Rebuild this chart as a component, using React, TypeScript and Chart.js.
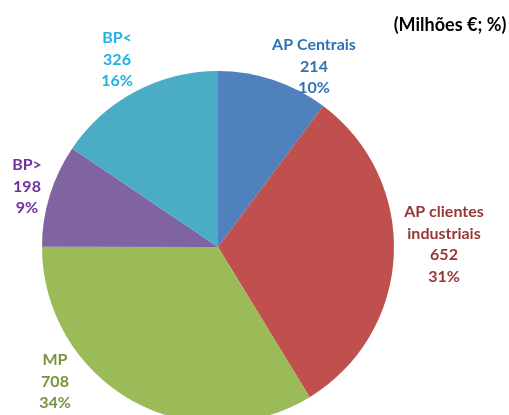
import React, { useEffect, useRef } from "react";
import { Chart, registerables } from "chart.js";

Chart.register(...registerables);

const categories = ["AP Centrais", "AP clientes industriais", "MP", "BP>", "BP<"];
const values = [214, 652, 708, 198, 326];
const percents = ["10%", "31%", "34%", "9%", "16%"];
const labelLines = [["AP Centrais"], ["AP clientes", "industriais"], ["MP"], ["BP>"], ["BP<"]];
const sliceColors = ["#4F81BD", "#C0504D", "#9BBB59", "#8064A2", "#4BACC6"];
const textColors = ["#2E74B5", "#953735", "#77933C", "#7030A0", "#1FB0E4"];
// label anchor (center x, first line y) in pixels
const labelAnchors = [
  [314, 45],
  [444, 212],
  [55, 360],
  [27, 165],
  [117, 38],
];
const title = "(Milhões €; %)";

const FONT = "Lato, 'Open Sans', sans-serif";

const labelPlugin = {
  id: "outerLabels",
  afterDraw(chart: any) {
    const ctx = chart.ctx;
    ctx.save();
    ctx.textAlign = "center";
    ctx.textBaseline = "middle";
    ctx.font = `bold 16px ${FONT}`;
    categories.forEach((_, i) => {
      const lines = [...labelLines[i], String(values[i]), percents[i]];
      const [x, y] = labelAnchors[i];
      ctx.fillStyle = textColors[i];
      lines.forEach((t, j) => ctx.fillText(t, x, y + j * 21.5));
    });
    ctx.fillStyle = "#000000";
    ctx.font = `bold 18px ${FONT}`;
    ctx.fillText(title, 450, 25);
    ctx.restore();
  },
};

export default function App() {
  const ref = useRef<HTMLCanvasElement>(null);
  useEffect(() => {
    if (!ref.current) return;
    const chart = new Chart(ref.current, {
      type: "pie",
      data: {
        labels: categories,
        datasets: [
          {
            data: values,
            backgroundColor: sliceColors,
            borderWidth: 0,
          },
        ],
      },
      options: {
        responsive: false,
        animation: false,
        layout: { padding: { left: 42, right: 115, top: 71, bottom: 17 } },
        plugins: {
          legend: { display: false },
          tooltip: { enabled: false },
        },
      },
      plugins: [labelPlugin],
    });
    return () => chart.destroy();
  }, []);
  return (
    <div
      style={{
        position: "absolute",
        left: 0,
        top: 0,
        width: 509,
        height: 415,
        overflow: "hidden",
        background: "#ffffff",
      }}
    >
      <canvas ref={ref} width={509} height={440} style={{ display: "block" }} />
    </div>
  );
}
